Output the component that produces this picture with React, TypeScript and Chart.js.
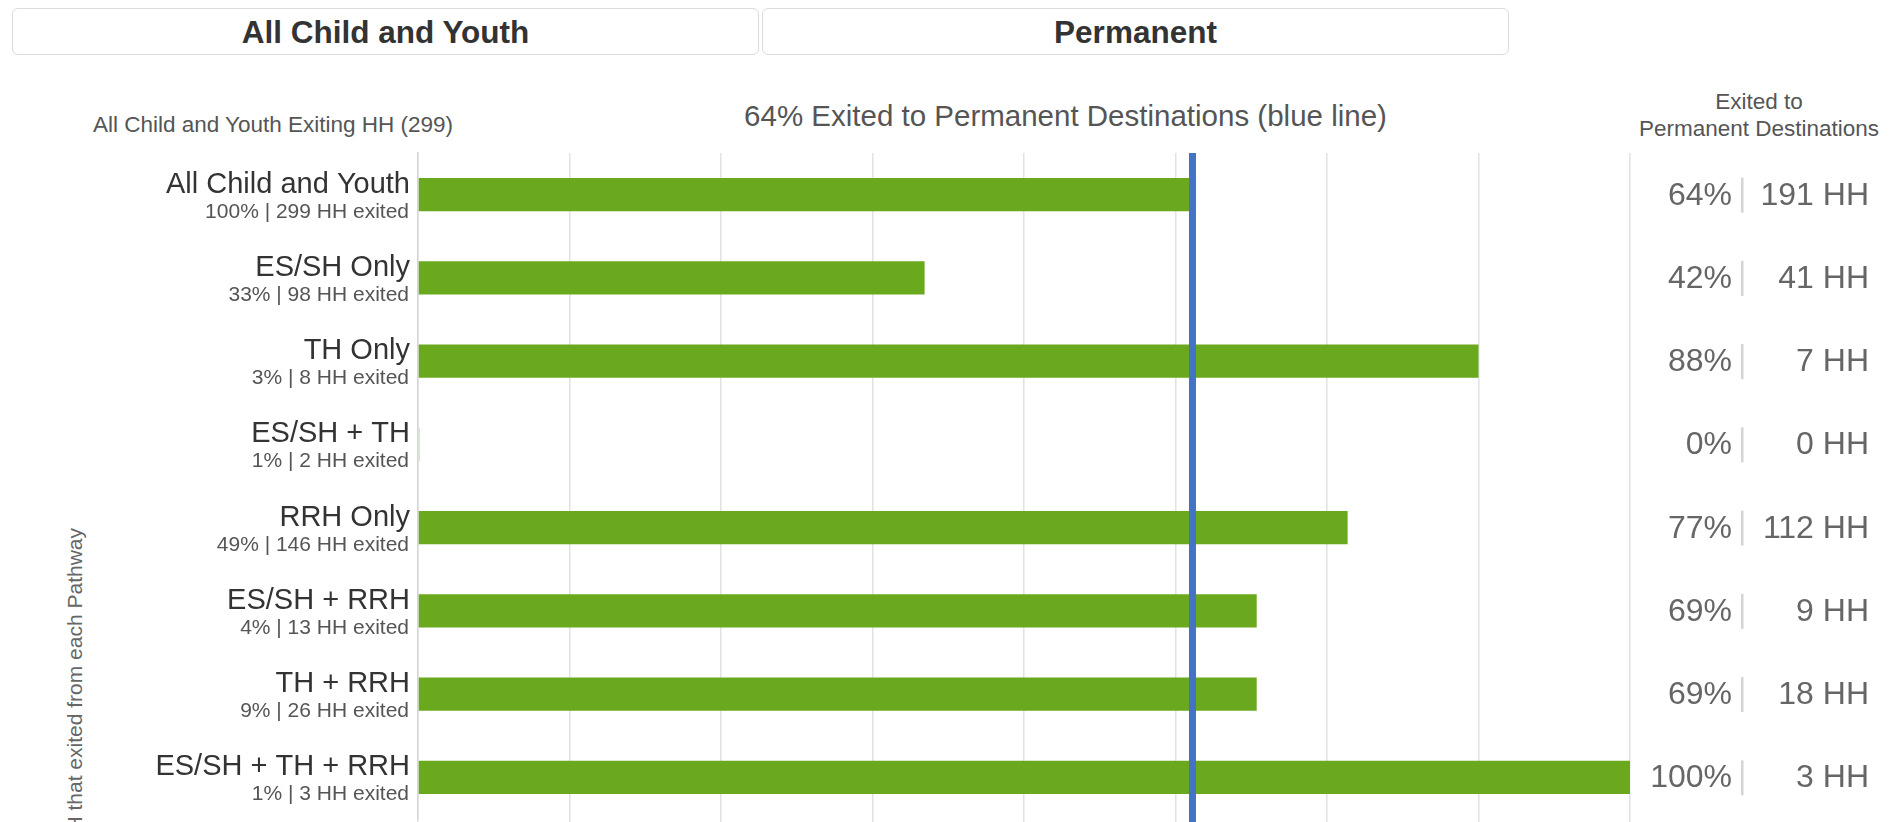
import React, { useEffect, useRef } from "react";
import { Chart, registerables } from "chart.js";

Chart.register(...registerables);

const categories = [
  "All Child and Youth",
  "ES/SH Only",
  "TH Only",
  "ES/SH + TH",
  "RRH Only",
  "ES/SH + RRH",
  "TH + RRH",
  "ES/SH + TH + RRH",
];
const exitedShare = ["100%", "33%", "3%", "1%", "49%", "4%", "9%", "1%"];
const exitedHH = [299, 98, 8, 2, 146, 13, 26, 3];
const permanentPct = [63.9, 41.8, 87.5, 0, 76.7, 69.2, 69.2, 100];
const permanentLabel = ["64%", "42%", "88%", "0%", "77%", "69%", "69%", "100%"];
const permanentHH = [191, 41, 7, 0, 112, 9, 18, 3];
const overallPct = 63.9;

const FONT = "'Liberation Sans', Arial, Helvetica, sans-serif";
const GREEN = "#6AA81E";
const BLUE = "#4472C4";

const labelPlugin = {
  id: "rowLabels",
  afterDatasetsDraw(chart: any) {
    const { ctx, chartArea, scales } = chart;
    const x = scales.x.getPixelForValue(overallPct);
    ctx.save();
    ctx.fillStyle = BLUE;
    ctx.fillRect(x - 3.5, chartArea.top, 7, chart.height - chartArea.top);
    ctx.restore();
  },
  afterDraw(chart: any) {
    const { ctx, scales } = chart;
    const y = scales.y;
    ctx.save();
    categories.forEach((cat, i) => {
      const cy = y.getPixelForValue(i);
      ctx.textAlign = "right";
      ctx.textBaseline = "alphabetic";
      ctx.fillStyle = "#333333";
      ctx.font = `29px ${FONT}`;
      ctx.fillText(cat, 410, cy - 2);
      ctx.fillStyle = "#555555";
      ctx.font = `21px ${FONT}`;
      ctx.fillText(`${exitedShare[i]} | ${exitedHH[i]} HH exited`, 409, cy + 23);

      ctx.fillStyle = "#666666";
      ctx.font = `32px ${FONT}`;
      ctx.fillText(permanentLabel[i], 1732, cy + 10);
      ctx.fillText(`${permanentHH[i]} HH`, 1869, cy + 10);
      ctx.fillStyle = "#d4d4d4";
      ctx.fillRect(1741, cy - 17, 2.5, 35);
    });
    ctx.restore();
  },
};

export default function App() {
  const ref = useRef<HTMLCanvasElement>(null);

  useEffect(() => {
    if (!ref.current) return;
    const chart = new Chart(ref.current, {
      type: "bar",
      data: {
        labels: categories,
        datasets: [
          {
            data: permanentPct,
            backgroundColor: (c: any) => (c.raw === 0 ? "#d6e9c0" : GREEN),
            borderWidth: 0,
            minBarLength: 2,
            barPercentage: 0.4,
            categoryPercentage: 1,
          },
        ],
      },
      options: {
        indexAxis: "y",
        responsive: false,
        animation: false,
        events: [],
        layout: { padding: { top: 153, right: 263, left: 0, bottom: 0 } },
        plugins: { legend: { display: false }, tooltip: { enabled: false }, title: { display: false } },
        scales: {
          x: {
            min: 0,
            max: 100,
            ticks: { display: false, stepSize: 12.5 },
            grid: { color: "#e2e2e2", lineWidth: 1.5, drawTicks: true, tickLength: 3 },
            border: { display: false },
            afterFit: (s: any) => {
              s.height = 3;
            },
          },
          y: {
            ticks: { display: false },
            grid: { display: false },
            border: { display: true, color: "#d6d6d6", width: 1.5 },
            afterFit: (s: any) => {
              s.width = 418;
            },
          },
        },
      },
      plugins: [labelPlugin],
    });
    return () => chart.destroy();
  }, []);

  const boxStyle: React.CSSProperties = {
    position: "absolute",
    top: 8,
    width: 747,
    height: 47,
    border: "1px solid #dcdcdc",
    borderRadius: 6,
    boxSizing: "border-box",
    background: "#fff",
  };
  const boxText: React.CSSProperties = {
    position: "absolute",
    top: 17,
    width: 747,
    textAlign: "center",
    font: `bold 31.5px/31px ${FONT}`,
    color: "#333",
    whiteSpace: "nowrap",
  };

  return (
    <div
      style={{
        position: "absolute",
        left: 0,
        top: 0,
        width: 1893,
        height: 822,
        overflow: "hidden",
        background: "#fff",
        fontFamily: FONT,
      }}
    >
      <div style={{ ...boxStyle, left: 12 }} />
      <div style={{ ...boxStyle, left: 762 }} />
      <div style={{ ...boxText, left: 12 }}>All Child and Youth</div>
      <div style={{ ...boxText, left: 762 }}>Permanent</div>

      <div
        style={{
          position: "absolute",
          left: 0,
          top: 114,
          width: 546,
          textAlign: "center",
          font: `22.5px/22.5px ${FONT}`,
          color: "#555",
          whiteSpace: "nowrap",
        }}
      >
        All Child and Youth Exiting HH (299)
      </div>
      <div
        style={{
          position: "absolute",
          left: 665,
          top: 101,
          width: 801,
          textAlign: "center",
          font: `29.5px/29.5px ${FONT}`,
          color: "#555",
          whiteSpace: "nowrap",
        }}
      >
        64% Exited to Permanent Destinations (blue line)
      </div>
      <div
        style={{
          position: "absolute",
          left: 1629,
          top: 89,
          width: 260,
          textAlign: "center",
          font: `22.5px/26.5px ${FONT}`,
          color: "#555",
          whiteSpace: "nowrap",
        }}
      >
        Exited to
        <br />
        Permanent Destinations
      </div>
      <div
        style={{
          position: "absolute",
          left: 63,
          top: 1228,
          width: 700,
          textAlign: "right",
          font: `21px/24px ${FONT}`,
          color: "#666",
          whiteSpace: "nowrap",
          transform: "rotate(-90deg)",
          transformOrigin: "0 0",
        }}
      >
        Percent of HH that exited from each Pathway
      </div>

      <canvas
        ref={ref}
        width={1893}
        height={822}
        style={{ position: "absolute", left: 0, top: 0, display: "block" }}
      />
    </div>
  );
}
